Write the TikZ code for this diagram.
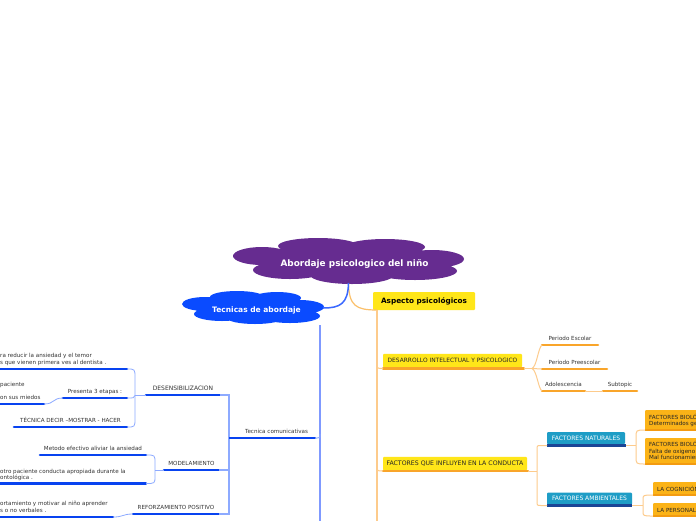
\documentclass[tikz,border=0pt]{standalone}
\usepackage{fontspec}
\setmainfont{DejaVu Sans}
\definecolor{purp}{HTML}{662C90}
\definecolor{bcloud}{HTML}{0A4BFF}
\definecolor{bline}{HTML}{0843F0}
\definecolor{midblue}{HTML}{3A68FF}
\definecolor{lblue}{HTML}{8DAAFF}
\definecolor{yel}{HTML}{FFE619}
\definecolor{orl}{HTML}{F9A52A}
\definecolor{lor}{HTML}{FDCB8C}
\definecolor{tealc}{HTML}{1E9DC6}
\definecolor{navy}{HTML}{1B4596}
\definecolor{obox}{HTML}{FBB317}
\definecolor{obot}{HTML}{F39B11}
\definecolor{txt}{HTML}{333333}
\tikzset{
  lbl/.style={font=\fontsize{5.6}{6.8}\selectfont, text=txt, inner sep=0pt},
  capl/.style={font=\fontsize{6.0}{7}\selectfont},
  ulblue/.style={bline, line width=2.6pt, line cap=round},
  ulor/.style={orl, line width=2.6pt, line cap=round},
  ulnavy/.style={navy, line width=2.4pt},
  conb/.style={lblue, line width=0.8pt},
  cono/.style={lor, line width=1pt},
}
\newcommand\mmtopic[7][]{%
  \coordinate (#2-l) at (#3,#5); \coordinate (#2-r) at (#4,#5);
  \draw[#6] (#2-l) -- (#2-r);
  \node[lbl, #1, anchor=base] (#2) at ({(#3+#4)/2},#5-5) {#7};}
\begin{document}
\begin{tikzpicture}[x=1pt,y=-1pt]
\clip (0,0) rectangle (696,520);
\fill[white] (0,0) rectangle (696,520);

% ---------- root cloud ----------
\fill[purp] (262,256) ellipse [x radius=29pt, y radius=9pt]
  (318,246) ellipse [x radius=40pt, y radius=8pt]
  (385,247) ellipse [x radius=40pt, y radius=8pt]
  (432,259) ellipse [x radius=32pt, y radius=9pt]
  (415,271) ellipse [x radius=42pt, y radius=9pt]
  (352,275) ellipse [x radius=42pt, y radius=9pt]
  (290,270) ellipse [x radius=37pt, y radius=9pt]
  (350,261) ellipse [x radius=95pt, y radius=14pt];
\node[text=white, font=\bfseries\fontsize{8.9}{10}\selectfont, inner sep=0pt] (root) at (354.5,263.5) {Abordaje psicologico del niño};
\coordinate (rootb) at (348.5,283);

% ---------- blue cloud ----------
\fill[bcloud] (205,304) ellipse [x radius=23pt, y radius=7pt]
  (237,297) ellipse [x radius=27pt, y radius=6pt]
  (277,298) ellipse [x radius=24pt, y radius=6pt]
  (300,307) ellipse [x radius=24pt, y radius=7pt]
  (290,316) ellipse [x radius=30pt, y radius=7pt]
  (255,318) ellipse [x radius=28pt, y radius=6pt]
  (222,314) ellipse [x radius=28pt, y radius=7pt]
  (254,308) ellipse [x radius=60pt, y radius=10pt];
\node[text=white, font=\bfseries\fontsize{7.5}{8.5}\selectfont, inner sep=0pt] (tca) at (256.5,310) {Tecnicas de abordaje};
\coordinate (tcaR) at (323,308);
\coordinate (tcaB) at (320,325);
\coordinate (tcaE) at (320,525);

% ---------- aspecto box ----------
\node[fill=yel, rounded corners=1pt, minimum width=102pt, minimum height=18pt, inner sep=0pt,
  font=\bfseries\fontsize{7.3}{8.5}\selectfont, text=black] (asp) at (424,301) {Aspecto psicológicos};
\coordinate (aspA) at (377,310);
\coordinate (aspE) at (377,525);

% root connectors
\draw[orl!70, line width=1.2pt] (rootb) .. controls (349,306) and (356,310) .. (aspA);
\draw[midblue, line width=1.5pt] (rootb) .. controls (348,304) and (340,308) .. (tcaR);
\draw[lor, line width=1.2pt] (aspA) -- (aspE);
\draw[lblue!90!blue, line width=1.4pt] (tcaB) -- (tcaE);

% ---------- blue side ----------
\mmtopic{tec}{238}{315}{438}{ulblue}{Tecnica comunicativas}
\mmtopic[capl]{des}{146}{220}{395}{ulblue}{DESENSIBILIZACION}
\mmtopic{mod}{164}{219}{470}{ulblue}{MODELAMIENTO}
\mmtopic{ref}{133}{219}{514}{ulblue}{REFORZAMIENTO POSITIVO}
\mmtopic{dpre}{63}{127}{398}{ulblue}{Presenta 3 etapas :}
\mmtopic{dtec}{14}{127}{427}{ulblue}{TÉCNICA DECIR –MOSTRAR - HACER}
\mmtopic{mmet}{40}{146}{455}{ulblue}{Metodo efectivo aliviar la ansiedad}

\coordinate (d1-l) at (-5,369); \coordinate (d1-r) at (127,369);
\draw[ulblue] (d1-l) -- (d1-r);
\node[lbl, anchor=base west] (d1a) at (0,357) {ra reducir la ansiedad y el temor};
\node[lbl, anchor=base west] (d1b) at (0,364) {s que vienen primera ves al dentista .};

\coordinate (d2-l) at (-5,404); \coordinate (d2-r) at (44,404);
\draw[ulblue] (d2-l) -- (d2-r);
\node[lbl, anchor=base west] (d2a) at (0,386) {paciente};
\node[lbl, anchor=base west] (d2b) at (0,399) {on sus miedos};

\coordinate (m2-l) at (-5,483.5); \coordinate (m2-r) at (146,483.5);
\draw[ulblue] (m2-l) -- (m2-r);
\node[lbl, anchor=base west] (m2a) at (0,473.5) {otro paciente conducta apropiada durante la};
\node[lbl, anchor=base west] (m2b) at (0,479.5) {ontológica .};

\coordinate (r1-l) at (-5,517); \coordinate (r1-r) at (113,517);
\draw[ulblue] (r1-l) -- (r1-r);
\node[lbl, anchor=base west] (r1a) at (0,505.5) {ortamiento y motivar al niño aprender};
\node[lbl, anchor=base west] (r1b) at (0,512.5) {s o no verbales .};

% blue connectors
\draw[lblue, line width=1.1pt] (des-r) -- (229,395) -- (229,514) -- (ref-r);
\draw[lblue, line width=1.1pt] (mod-r) -- (229,470);
\draw[bline, line width=1.2pt] (229,438) -- (tec-l);
\draw[lblue, line width=1pt] (tec-r) -- (317,438) .. controls (320,438) .. (320,434);
\draw[conb] (d1-r) .. controls (135,369) .. (135,378) -- (135,418) .. controls (135,427) .. (dtec-r);
\draw[conb] (dpre-r) .. controls (134,398) .. (135,395.5);
\draw[conb] (135,395) -- (des-l);
\draw[conb] (mmet-r) .. controls (155,455) .. (155,463) -- (155,476) .. controls (155,483.5) .. (m2-r);
\draw[conb] (155,470) -- (mod-l);
\draw[conb] (ref-l) .. controls (122,514) and (124,517) .. (r1-r);
\draw[conb] (dpre-l) .. controls (52,398) and (55,404) .. (d2-r);

% ---------- orange side ----------
\node[fill=yel, rounded corners=1pt, minimum width=139pt, minimum height=13.5pt, inner sep=0pt,
  lbl, font=\fontsize{5.9}{7}\selectfont, text=black!85] (dev) at (452.5,360.5) {DESARROLLO INTELECTUAL Y PSICOLOGICO};
\coordinate (dev-l) at (383,368.5); \coordinate (dev-r) at (524,368.5);
\draw[ulor] (dev-l) -- (dev-r);
\draw[cono] (377,363) .. controls (377,368.5) .. (dev-l);

\mmtopic{pe}{542}{598}{345}{ulor}{Periodo Escolar}
\mmtopic{pp}{542}{607}{369}{ulor}{Periodo Preescolar}
\mmtopic{ad}{542}{585}{391}{ulor}{Adolescencia}
\mmtopic{sub}{603}{637}{391}{ulor}{Subtopic}
\coordinate (devj) at (532,368.5);
\draw[cono] (dev-r) -- (devj);
\draw[cono] (devj) .. controls (537,366) and (538,348) .. (pe-l);
\draw[cono] (devj) -- (pp-l);
\draw[cono] (devj) .. controls (537,371) and (538,388) .. (ad-l);
\draw[cono] (ad-r) -- (sub-l);

\node[fill=yel, rounded corners=1pt, minimum width=144pt, minimum height=13.5pt, inner sep=0pt,
  lbl, font=\fontsize{6.2}{7}\selectfont, text=black!85] (fac) at (455,463.5) {FACTORES QUE INFLUYEN EN LA CONDUCTA};
\coordinate (fac-l) at (383,471); \coordinate (fac-r) at (528,471);
\draw[ulor] (fac-l) -- (fac-r);
\draw[cono] (377,465.5) .. controls (377,471) .. (fac-l);

\node[fill=tealc, rounded corners=1pt, minimum width=78pt, minimum height=12pt, inner sep=0pt,
  lbl, font=\fontsize{6.0}{7}\selectfont, text=white] (fn) at (586,438) {FACTORES NATURALES};
\coordinate (fn-l) at (547,445.5); \coordinate (fn-r) at (626,445.5);
\draw[ulnavy] (fn-l) -- (fn-r);
\node[fill=tealc, rounded corners=1pt, minimum width=85pt, minimum height=12pt, inner sep=0pt,
  lbl, font=\fontsize{6.0}{7}\selectfont, text=white] (fa) at (589.5,498.5) {FACTORES AMBIENTALES};
\coordinate (fa-l) at (547,505.5); \coordinate (fa-r) at (632,505.5);
\draw[ulnavy] (fa-l) -- (fa-r);
\draw[cono] (fac-r) -- (537,471);
\draw[cono] (fn-l) -- (541,445.5) .. controls (537,445.5) .. (537,450) -- (537,501) .. controls (537,505.5) .. (541,505.5) -- (fa-l);

% orange leaf boxes
\fill[obox, rounded corners=1pt] (645,410) rectangle (705,430);
\draw[obot, line width=1.6pt] (645,430) -- (700,430);
\node[lbl, anchor=base west, text=black!85] (fb1a) at (649,419) {FACTORES BIOLÓGICOS};
\node[lbl, anchor=base west, text=black!85] (fb1b) at (649,425.5) {Determinados genéticamente};
\coordinate (fb1-l) at (645,430);

\fill[obox, rounded corners=1pt] (645,438) rectangle (705,464);
\draw[obot, line width=1.6pt] (645,464) -- (700,464);
\node[lbl, anchor=base west, text=black!85] (fb2a) at (649,446) {FACTORES BIOLÓGICOS};
\node[lbl, anchor=base west, text=black!85] (fb2b) at (649,453) {Falta de oxigeno al nacer};
\node[lbl, anchor=base west, text=black!85] (fb2c) at (649,459.5) {Mal funcionamiento};
\coordinate (fb2-l) at (645,464);

\fill[obox, rounded corners=1pt] (653,482) rectangle (705,495);
\draw[obot, line width=1.6pt] (653,495) -- (700,495);
\node[lbl, anchor=base west, text=black!85] (c1) at (657,491) {LA COGNICIÓN};
\coordinate (c1-l) at (653,495);

\fill[obox, rounded corners=1pt] (653,503) rectangle (705,516);
\draw[obot, line width=1.6pt] (653,516) -- (700,516);
\node[lbl, anchor=base west, text=black!85] (c2) at (657,512) {LA PERSONALIDAD};
\coordinate (c2-l) at (653,516);

\draw[cono] (fn-r) -- (636,445.5);
\draw[cono] (fb1-l) .. controls (636,430) .. (636,438) -- (636,456) .. controls (636,464) .. (fb2-l);
\draw[cono] (fa-r) -- (643,505.5);
\draw[cono] (c1-l) .. controls (643,495) .. (643,500) -- (643,511) .. controls (643,516) .. (c2-l);
\end{tikzpicture}
\end{document}
